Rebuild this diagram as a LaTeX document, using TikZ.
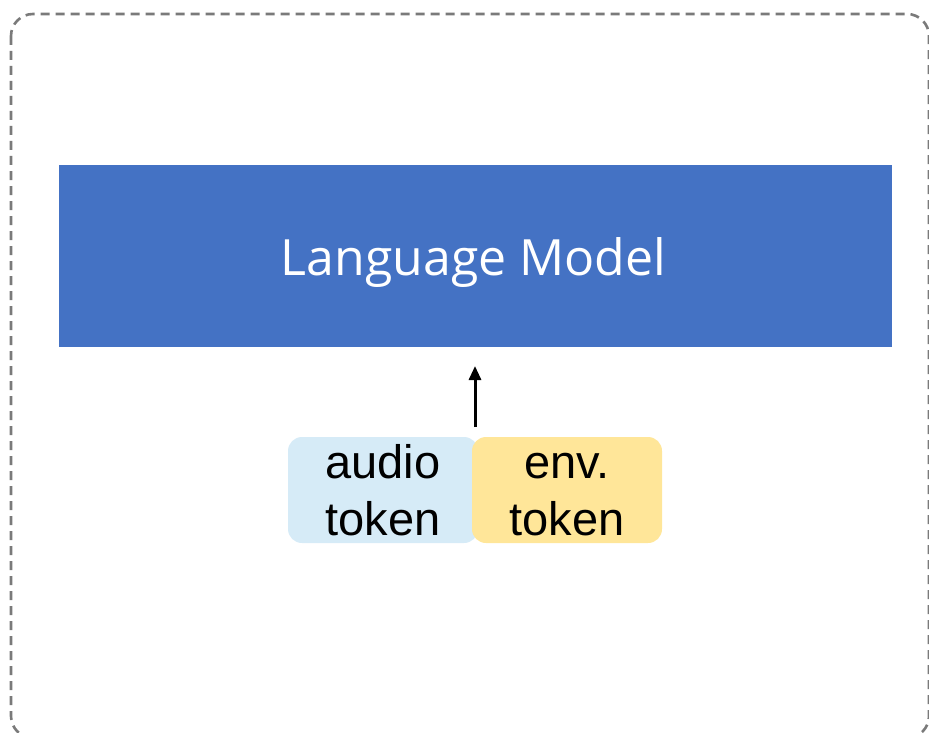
\documentclass[tikz,border=0pt]{standalone}
\usepackage{fontspec}
\setmainfont{Liberation Sans}
\newfontfamily\lmfont{Open Sans}
\usetikzlibrary{arrows.meta}
\definecolor{lmblue}{HTML}{4472C4}
\definecolor{audioblue}{HTML}{D6EBF7}
\definecolor{envyellow}{HTML}{FFE699}
\definecolor{framegray}{HTML}{7A7A7A}
\begin{document}
\begin{tikzpicture}[x=1pt,y=-1pt,
  tokenbox/.style={rounded corners=14pt, inner sep=0pt, minimum width=190pt, minimum height=106pt,
    align=center, font=\fontsize{47}{57}\selectfont, text=black}]
  \useasboundingbox (0,0) rectangle (929,733);
  \begin{scope}
    \clip (0,0) rectangle (929,733);
    % dashed outer frame
    \draw[framegray, line width=2.6pt, dash pattern=on 9pt off 6pt, rounded corners=22pt]
      (11,14) rectangle (929,738);
  \end{scope}
  % language model block
  \node[fill=lmblue, minimum width=833pt, minimum height=182pt, inner sep=0pt] (lm) at (475.5,256) {};
  \node[anchor=base, inner sep=0pt, text=white, font=\lmfont\fontsize{50}{60}\selectfont]
    (lmlabel) at (473.5,275) {Language Model};
  % input tokens
  \node[tokenbox, fill=audioblue] (audio) at (383,490) {audio\\token};
  \node[tokenbox, fill=envyellow] (env) at (567,490) {\vphantom{d}env.\\token};
  \coordinate (arrbase) at (475,427);
  \coordinate (arrtip) at (475,366);
  \draw[-{Triangle[length=14pt,width=12pt]}, line width=3pt] (arrbase) -- (arrtip);
\end{tikzpicture}
\end{document}
